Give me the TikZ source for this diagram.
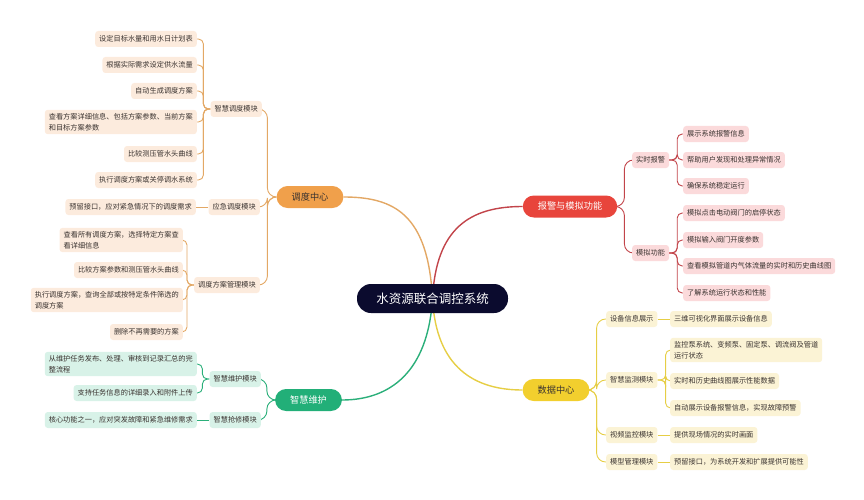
\documentclass[tikz,border=0pt]{standalone}
\usepackage{fontspec}
\setmainfont{Noto Sans CJK SC}
\usetikzlibrary{backgrounds}
\definecolor{centerc}{HTML}{0B0B2E}
\definecolor{orangem}{HTML}{F0A04B}
\definecolor{orangel}{HTML}{FCEBDD}
\definecolor{orangeline}{HTML}{E3A865}
\definecolor{redm}{HTML}{E8453C}
\definecolor{redl}{HTML}{FBDADB}
\definecolor{redline}{HTML}{C2444A}
\definecolor{yellowm}{HTML}{F2CF2E}
\definecolor{yellowl}{HTML}{FBF3D5}
\definecolor{yellowline}{HTML}{E6CE45}
\definecolor{greenm}{HTML}{22AF78}
\definecolor{greenl}{HTML}{D8F2E8}
\definecolor{greenline}{HTML}{2BAF7A}
\definecolor{txt}{HTML}{3A3330}
\tikzset{
  leaf/.style={rounded corners=3pt, inner xsep=4pt, inner ysep=3.6pt, minimum height=16pt,
    font=\fontsize{7.2}{10.5}\selectfont, align=left, text=txt},
  oleaf/.style={leaf, fill=orangel},
  rleaf/.style={leaf, fill=redl},
  yleaf/.style={leaf, fill=yellowl},
  gleaf/.style={leaf, fill=greenl},
  mainnode/.style={rounded corners=11pt, minimum height=22pt, inner xsep=15pt,
    font=\fontsize{9.2}{11}\selectfont},
  conn/.style={line width=0.9pt, rounded corners=5pt},
  bigconn/.style={line width=1.4pt},
}
\begin{document}
\begin{tikzpicture}[x=1pt,y=-1pt]
\useasboundingbox (0,0) rectangle (864,500);

% center
\node[fill=centerc, text=white, rounded corners=14pt, minimum width=151pt, minimum height=29pt,
  font=\fontsize{12.5}{14}\selectfont] (c) at (432.5,298.5) {水资源联合调控系统};

% main branches
\node[mainnode, fill=orangem, text=txt] (ddzx) at (310,197) {调度中心};
\node[mainnode, fill=redm, text=white] (bj) at (570,206.5) {报警与模拟功能};
\node[mainnode, fill=yellowm, text=txt] (sjzx) at (556,390) {数据中心};
\node[mainnode, fill=greenm, text=white] (zhwh) at (308.5,400) {智慧维护};

% orange subs
\node[oleaf, anchor=east] (os1) at (262,109) {智慧调度模块};
\node[oleaf, anchor=east] (os2) at (260,207) {应急调度模块};
\node[oleaf, anchor=east] (os3) at (260,285) {调度方案管理模块};

\node[oleaf, anchor=east] (ol1) at (197,39) {设定目标水量和用水日计划表};
\node[oleaf, anchor=east] (ol2) at (197,65) {根据实际需求设定供水流量};
\node[oleaf, anchor=east] (ol3) at (197,91) {自动生成调度方案};
\node[oleaf, anchor=east] (ol4) at (197,122) {查看方案详细信息、包括方案参数、当前方案\\和目标方案参数};
\node[oleaf, anchor=east] (ol5) at (197,154) {比较测压管水头曲线};
\node[oleaf, anchor=east] (ol6) at (197,180) {执行调度方案或关停调水系统};
\node[oleaf, anchor=east] (ol7) at (196,207) {预留接口，应对紧急情况下的调度需求};
\node[oleaf, anchor=east] (om1) at (183,240) {查看所有调度方案，选择特定方案查\\看详细信息};
\node[oleaf, anchor=east] (om2) at (183,270) {比较方案参数和测压管水头曲线};
\node[oleaf, anchor=east] (om3) at (183,300) {执行调度方案，查询全部或按特定条件筛选的\\调度方案};
\node[oleaf, anchor=east] (om4) at (183,332) {删除不再需要的方案};

% green subs
\node[gleaf, anchor=east] (gs1) at (261,379) {智慧维护模块};
\node[gleaf, anchor=east] (gs2) at (261,420) {智慧抢修模块};
\node[gleaf, anchor=east] (gl1) at (197,364) {从维护任务发布、处理、审核到记录汇总的完\\整流程};
\node[gleaf, anchor=east] (gl2) at (197,393) {支持任务信息的详细录入和附件上传};
\node[gleaf, anchor=east] (gl3) at (197,420) {核心功能之一，应对突发故障和紧急维修需求};

% red subs
\node[rleaf, anchor=west] (rs1) at (632,160) {实时报警};
\node[rleaf, anchor=west] (rs2) at (632,253) {模拟功能};
\node[rleaf, anchor=west] (rl1) at (683,134) {展示系统报警信息};
\node[rleaf, anchor=west] (rl2) at (683,160) {帮助用户发现和处理异常情况};
\node[rleaf, anchor=west] (rl3) at (683,186) {确保系统稳定运行};
\node[rleaf, anchor=west] (rl4) at (683,213) {模拟点击电动阀门的启停状态};
\node[rleaf, anchor=west] (rl5) at (683,240) {模拟输入阀门开度参数};
\node[rleaf, anchor=west] (rl6) at (683,266) {查看模拟管道内气体流量的实时和历史曲线图};
\node[rleaf, anchor=west] (rl7) at (683,293) {了解系统运行状态和性能};

% yellow subs
\node[yleaf, anchor=west] (ys1) at (606,319) {设备信息展示};
\node[yleaf, anchor=west] (ys2) at (606,380) {智慧监测模块};
\node[yleaf, anchor=west] (ys3) at (606,435) {视频监控模块};
\node[yleaf, anchor=west] (ys4) at (606,462) {模型管理模块};
\node[yleaf, anchor=west] (yl1) at (670,319) {三维可视化界面展示设备信息};
\node[yleaf, anchor=west] (yl2) at (670,350) {监控泵系统、变频泵、固定泵、调流阀及管道\\运行状态};
\node[yleaf, anchor=west] (yl3) at (670,381) {实时和历史曲线图展示性能数据};
\node[yleaf, anchor=west] (yl4) at (670,408) {自动展示设备报警信息，实现故障预警};
\node[yleaf, anchor=west] (yl5) at (670,435) {提供现场情况的实时画面};
\node[yleaf, anchor=west] (yl6) at (670,462) {预留接口，为系统开发和扩展提供可能性};

\begin{scope}[on background layer]
% center to main
\draw[bigconn, orangeline] (c.center) .. controls (428,215) and (395,197) .. (ddzx.east);
\draw[bigconn, redline] (c.center) .. controls (436,228) and (470,206.5) .. (bj.west);
\draw[bigconn, yellowline] (c.center) .. controls (436,368) and (475,390) .. (sjzx.west);
\draw[bigconn, greenline] (c.center) .. controls (428,372) and (390,400) .. (zhwh.east);

% orange
\foreach \s in {os1,os2,os3}
  \draw[conn, orangeline, rounded corners=9pt] (ddzx.west) -- ++(-9,0) |- (\s.east);
\foreach \l in {ol1,ol2,ol3,ol4,ol5,ol6}
  \draw[conn, orangeline] (os1.west) -- ++(-7,0) |- (\l.east);
\draw[conn, orangeline] (os2.west) -- (ol7.east);
\foreach \l in {om1,om2,om3,om4}
  \draw[conn, orangeline] (os3.west) -- ++(-7,0) |- (\l.east);

% green
\foreach \s in {gs1,gs2}
  \draw[conn, greenline, rounded corners=9pt] (zhwh.west) -- ++(-8,0) |- (\s.east);
\foreach \l in {gl1,gl2}
  \draw[conn, greenline] (gs1.west) -- ++(-7,0) |- (\l.east);
\draw[conn, greenline] (gs2.west) -- (gl3.east);

% red
\foreach \s in {rs1,rs2}
  \draw[conn, redline, rounded corners=9pt] (bj.east) -- ++(7,0) |- (\s.west);
\foreach \l in {rl1,rl2,rl3}
  \draw[conn, redline] (rs1.east) -- ++(8,0) |- (\l.west);
\foreach \l in {rl4,rl5,rl6,rl7}
  \draw[conn, redline] (rs2.east) -- ++(8,0) |- (\l.west);

% yellow
\foreach \s in {ys1,ys2,ys3,ys4}
  \draw[conn, yellowline, rounded corners=9pt] (sjzx.east) -- ++(7,0) |- (\s.west);
\draw[conn, yellowline] (ys1.east) -- (yl1.west);
\foreach \l in {yl2,yl3,yl4}
  \draw[conn, yellowline] (ys2.east) -- ++(8,0) |- (\l.west);
\draw[conn, yellowline] (ys3.east) -- (yl5.west);
\draw[conn, yellowline] (ys4.east) -- (yl6.west);
\end{scope}
\end{tikzpicture}
\end{document}
